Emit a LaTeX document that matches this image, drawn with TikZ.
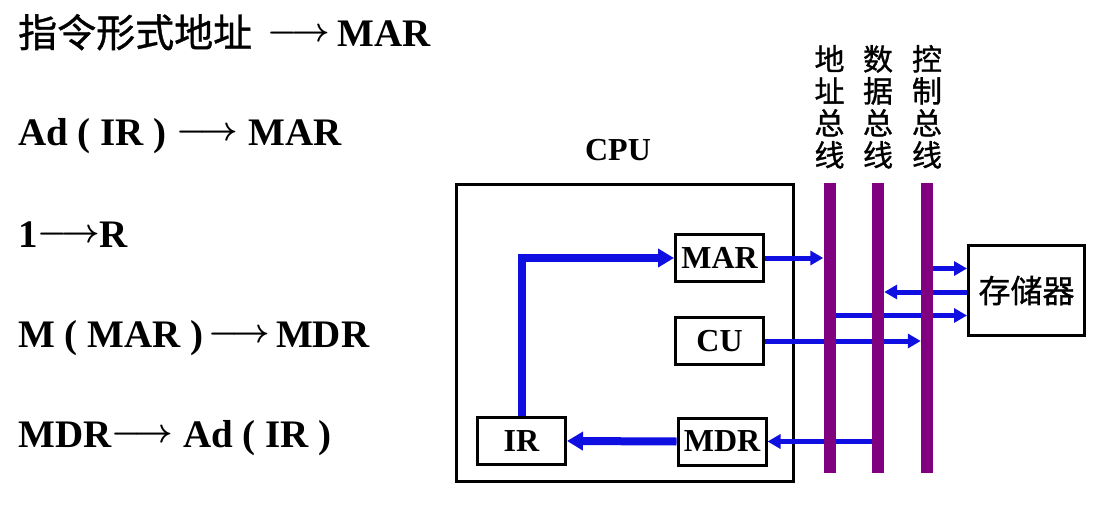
\documentclass[tikz,border=0pt]{standalone}
\usepackage{fontspec}
\setmainfont{Liberation Serif}
\newfontfamily\cjk{Noto Sans CJK SC}[FakeBold=1]
\usetikzlibrary{arrows.meta,positioning}
\definecolor{arrowblue}{RGB}{15,15,225}
\definecolor{buspurple}{RGB}{128,0,128}
\pgfdeclarelayer{front}
\pgfsetlayers{main,front}
\newcommand\lto{\raisebox{5pt}{\scalebox{1.35}{\boldmath$\longrightarrow$}}}

\begin{document}
\begin{tikzpicture}[x=1pt,y=-1pt,
  micro step/.style={anchor=base west,inner sep=0pt,font=\fontsize{39}{47}\selectfont\bfseries},
  reg node/.style={draw,line width=3pt,minimum width=88pt,minimum height=47pt,inner sep=0pt,font=\fontsize{32}{36}\selectfont\bfseries},
  bus node/.style={fill=buspurple,minimum width=12pt,minimum height=290pt,inner sep=0pt},
  bus label/.style={align=center,inner sep=0pt,font=\cjk\fontsize{30}{32}\selectfont},
  inner arrow/.style={draw=arrowblue,line width=8pt,-{Triangle[length=16pt,width=18pt]}},
  bus arrow/.style={draw=arrowblue,line width=5pt,-{Triangle[length=13pt,width=14pt]}}]
\useasboundingbox (0,0) rectangle (1110,513);
\begin{scope}
\node[micro step] (s1) at (18,47) {{\cjk\mdseries 指令形式地址}\hspace{0.4em}\lto\hspace{0.2em}MAR};
\node[micro step] (s2) at (18,146) {Ad ( IR ) \lto\ MAR};
\node[micro step] (s3) at (18,247) {1\lto R};
\node[micro step] (s4) at (18,347) {M ( MAR )\hspace{0.12em}\lto\hspace{0.15em}MDR};
\node[micro step] (s5) at (18,447) {MDR\lto\ Ad ( IR )};
\end{scope}
\begin{scope}
\node[draw,line width=3pt,minimum width=337pt,minimum height=297pt] (cpu) at (625,333) {};
\node[font=\fontsize{32}{36}\selectfont\bfseries] (cpulabel) at (618,150) {CPU};
\node[reg node] (mar) at (719.5,258) {MAR};
\node[reg node] (cu) at (719.5,341) {CU};
\node[reg node] (mdr) at (722,441.5) {MDR};
\node[reg node] (ir) at (521.5,441) {IR};
\node[draw,line width=3pt,minimum width=116pt,minimum height=90pt,font=\cjk\fontsize{32}{36}\selectfont] (mem) at (1026.5,290.5) {存储器};
\end{scope}
\begin{pgfonlayer}{front}
\node[bus node] (abus) at (829.5,328) {};
\node[bus node] (dbus) at (878,328) {};
\node[bus node] (cbus) at (927,328) {};
\end{pgfonlayer}
\node[bus label,above=14pt of abus] (alabel) {地\\址\\总\\线};
\node[bus label,above=14pt of dbus] (dlabel) {数\\据\\总\\线};
\node[bus label,above=14pt of cbus] (clabel) {控\\制\\总\\线};
\coordinate (m1) at ([yshift=22pt]mem.west);
\coordinate (m2) at ([yshift=-1.5pt]mem.west);
\coordinate (m3) at ([yshift=-25pt]mem.west);
\begin{scope}
\draw[inner arrow] (ir.north) |- (mar.west);
\draw[inner arrow] (mdr.west) -- (ir.east);
\draw[bus arrow] (mar.east) -- (abus.west |- mar.east);
\draw[bus arrow] (cu.east) -- (cbus.west |- cu.east);
\draw[bus arrow] (cbus.east |- m1) -- (m1);
\draw[bus arrow] (m2) -- (dbus.east |- m2);
\draw[bus arrow] (abus.east |- m3) -- (m3);
\draw[bus arrow] (dbus.west |- mdr.east) -- (mdr.east);
\end{scope}
\end{tikzpicture}
\end{document}
